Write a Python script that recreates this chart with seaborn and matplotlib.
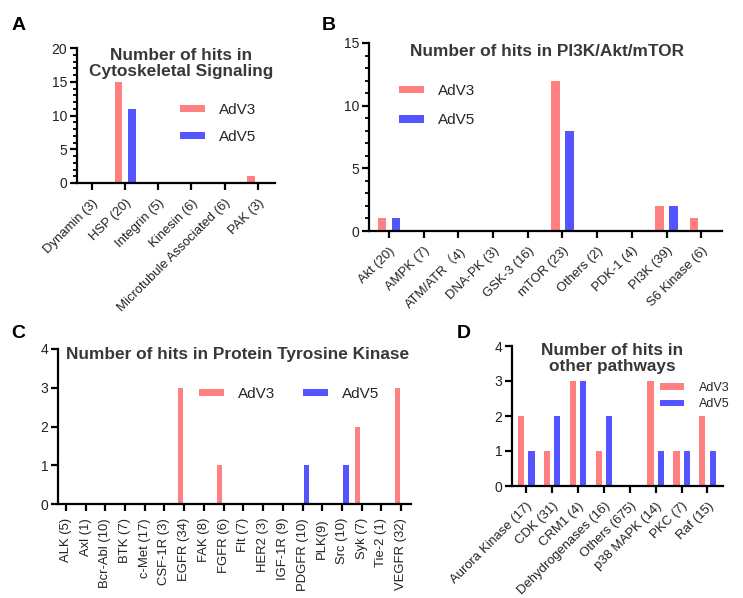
import matplotlib
matplotlib.use('Agg')
import matplotlib.pyplot as plt
from matplotlib.patches import Patch
from matplotlib.ticker import MultipleLocator
import pandas as pd
import seaborn as sns

# --- data ---
cyto_cats = ['Dynamin (3)', 'HSP (20)', 'Integrin (5)', 'Kinesin (6)',
             'Microtubule Associated (6)', 'PAK (3)']
cyto_adv3 = [0, 15, 0, 0, 0, 1]
cyto_adv5 = [0, 11, 0, 0, 0, 0]

pi3k_cats = ['Akt (20)', 'AMPK (7)', 'ATM/ATR（4)', 'DNA-PK (3)', 'GSK-3 (16)',
             'mTOR (23)', 'Others (2)', 'PDK-1 (4)', 'PI3K (39)', 'S6 Kinase (6)']
pi3k_adv3 = [1, 0, 0, 0, 0, 12, 0, 0, 2, 1]
pi3k_adv5 = [1, 0, 0, 0, 0, 8, 0, 0, 2, 0]

ptk_cats = ['ALK (5)', 'Axl (1)', 'Bcr-Abl (10)', 'BTK (7)', 'c-Met (17)', 'CSF-1R (3)',
            'EGFR (34)', 'FAK (8)', 'FGFR (6)', 'Flt (7)', 'HER2 (3)', 'IGF-1R (9)',
            'PDGFR (10)', 'PLK(9)', 'Src (10)', 'Syk (7)', 'Tie-2 (1)', 'VEGFR (32)']
ptk_adv3 = [0, 0, 0, 0, 0, 0, 3, 0, 1, 0, 0, 0, 0, 0, 0, 2, 0, 3]
ptk_adv5 = [0, 0, 0, 0, 0, 0, 0, 0, 0, 0, 0, 0, 1, 0, 1, 0, 0, 0]

other_cats = ['Aurora Kinase (17)', 'CDK (31)', 'CRM1 (4)', 'Dehydrogenases (16)',
              'Others (675)', 'p38 MAPK (14)', 'PKC (7)', 'Raf (15)']
other_adv3 = [2, 1, 3, 1, 0, 3, 1, 2]
other_adv5 = [1, 2, 3, 2, 0, 1, 1, 1]

groups = ['AdV3', 'AdV5']
colors = {'AdV3': '#FF8080', 'AdV5': '#5555FF'}

sns.set_style('ticks')
plt.rcParams['font.family'] = ['Liberation Sans', 'Noto Sans CJK SC', 'DejaVu Sans']

W, H = 743, 598
fig = plt.figure(figsize=(W / 100, H / 100), dpi=100)


def box(l, t, r, b):
    return [l / W, 1 - b / H, (r - l) / W, (b - t) / H]


def long_df(cats, a3, a5):
    return pd.DataFrame({
        'pathway': cats * 2,
        'hits': a3 + a5,
        'virus': ['AdV3'] * len(cats) + ['AdV5'] * len(cats),
    })


def panel(rect, cats, a3, a5, ymax, ystep, xlim, gap, rot, minor=False):
    ax = fig.add_axes(box(*rect))
    sns.barplot(data=long_df(cats, a3, a5), x='pathway', y='hits', hue='virus',
                hue_order=groups, palette=colors, order=cats, width=0.8, gap=gap,
                saturation=1, errorbar=None, linewidth=0, legend=False, ax=ax)
    ax.set_xlim(*xlim)
    ax.set_ylim(0, ymax)
    ax.yaxis.set_major_locator(MultipleLocator(ystep))
    if minor:
        ax.yaxis.set_minor_locator(MultipleLocator(1))
        ax.tick_params(axis='y', which='minor', length=3, width=1.3, color='black')
    sns.despine(ax=ax)
    for s in ['left', 'bottom']:
        ax.spines[s].set_linewidth(1.6)
        ax.spines[s].set_color('black')
    ax.tick_params(axis='both', which='major', length=5, width=1.6, color='black',
                   labelcolor='#222222', pad=2)
    ax.tick_params(axis='y', labelsize=10)
    ax.tick_params(axis='x', labelsize=9.4, pad=5)
    ax.set_xlabel('')
    ax.set_ylabel('')
    if rot == 90:
        plt.setp(ax.get_xticklabels(), rotation=90, ha='center', va='top')
    else:
        plt.setp(ax.get_xticklabels(), rotation=45, ha='right', va='top',
                 rotation_mode='anchor')
    ax.patch.set_alpha(0)
    return ax


def add_legend(ax, x, y, fs, ncol=1, spacing=0.6, pad=0.9, hl=1.65, cs=1.8):
    handles = [Patch(facecolor=colors[g], edgecolor='none') for g in groups]
    ax.legend(handles, groups, loc='center left', bbox_to_anchor=(x / W, 1 - y / H),
              bbox_transform=fig.transFigure, frameon=False, fontsize=fs, ncol=ncol,
              borderpad=0, borderaxespad=0, handlelength=hl, handleheight=0.4,
              handletextpad=pad, labelspacing=spacing, columnspacing=cs)


def title(x, y, text):
    fig.text(x / W, 1 - y / H, text, ha='center', va='center', fontsize=12.4,
             fontweight='bold', color='#383838', linespacing=1.05)


def letter(x, y, s):
    fig.text(x / W, 1 - y / H, s, ha='center', va='center', fontsize=14,
             fontweight='bold', color='black')


# A
axA = panel((77, 48, 275, 183), cyto_cats, cyto_adv3, cyto_adv5, 20, 5,
            (-0.45, 5.52), 0.42, 45, minor=True)
add_legend(axA, 180, 123.5, 11, spacing=0.85)
title(181, 63.3, 'Number of hits in\nCytoskeletal Signaling')
letter(19, 25, 'A')

# B
axB = panel((369, 43, 722, 231), pi3k_cats, pi3k_adv3, pi3k_adv5, 15, 5,
            (-0.58, 9.6), 0.4, 45, minor=True)
add_legend(axB, 399, 105.5, 11, spacing=1.0)
title(547, 52, 'Number of hits in PI3K/Akt/mTOR')
letter(329, 25, 'B')

# C
axC = panel((58, 349, 411, 504), ptk_cats, ptk_adv3, ptk_adv5, 4, 1,
            (-0.4, 17.5), 0.33, 90)
add_legend(axC, 199, 394, 11, ncol=2)
title(237.5, 355, 'Number of hits in Protein Tyrosine Kinase')
letter(18, 333, 'C')

# D
axD = panel((512, 346, 723, 486), other_cats, other_adv3, other_adv5, 4, 1,
            (-0.55, 7.6), 0.4, 45)
add_legend(axD, 660, 396, 9, spacing=0.35, pad=1.2, hl=1.9)
title(612, 358.5, 'Number of hits in\nother pathways')
letter(464, 333, 'D')

fig.savefig('out.png', dpi=100)
